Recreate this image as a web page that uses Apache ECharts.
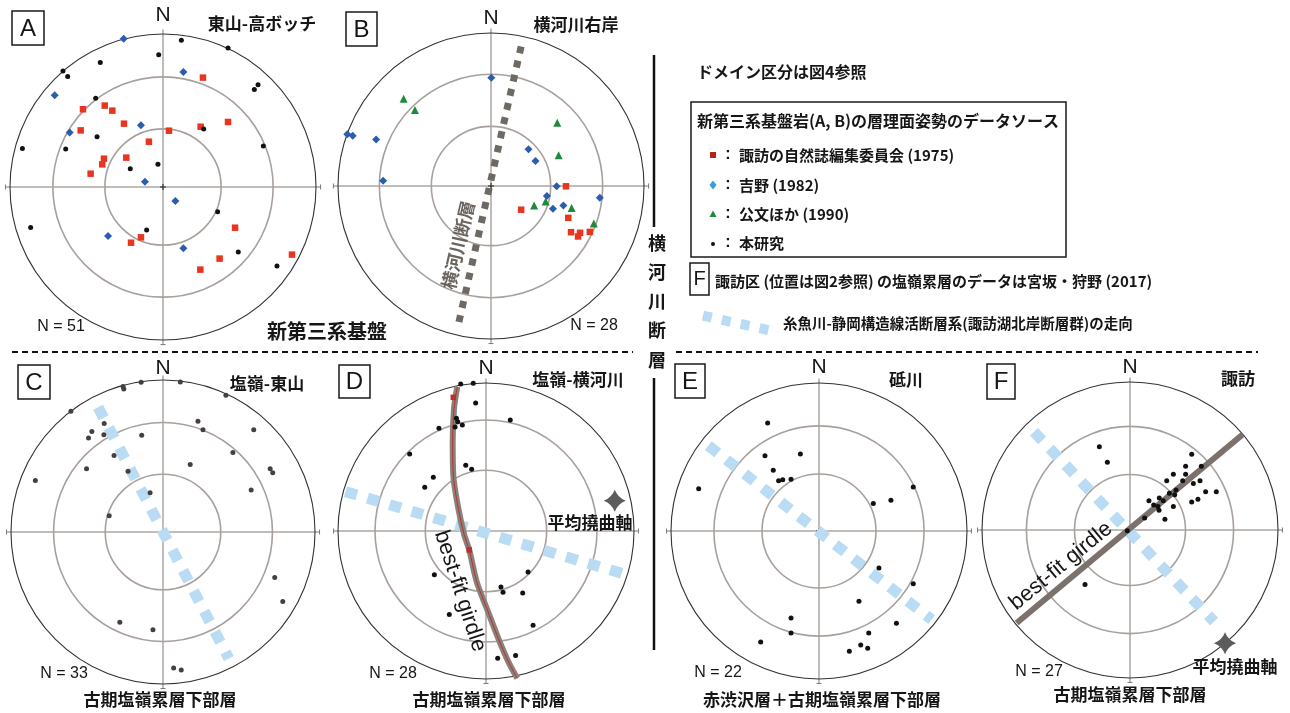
<!DOCTYPE html>
<html><head><meta charset="utf-8">
<script src="https://cdn.jsdelivr.net/npm/echarts@6/dist/echarts.min.js"></script>
<style>html,body{margin:0;padding:0;background:#fff}#c{width:1290px;height:713px}</style>
</head><body><div id="c"></div><script>
// ---- data (normalised stereonet coordinates) ----
const aBlack = [[0.120,0.959],[0.425,0.908],[-0.028,0.865],[-0.410,0.813],[-0.654,0.758],[-0.623,0.723],[0.597,0.638],[0.621,0.669],[-0.440,0.580],[0.266,0.379],[-0.431,0.329],[-0.919,0.251],[0.656,0.268],[-0.033,0.148],[-0.214,0.120],[0.357,-0.161],[-0.865,-0.264],[-0.107,-0.281],[0.492,-0.425],[0.745,-0.516],[-0.636,0.248]];
const aBlue = [[-0.257,0.969],[0.133,0.752],[-0.708,0.599],[-0.144,0.403],[-0.610,0.357],[-0.118,0.035],[0.081,-0.092],[-0.359,-0.320],[0.133,-0.401]];
const aRed = [[0.261,0.715],[-0.523,0.508],[-0.381,0.532],[-0.331,0.499],[-0.255,0.414],[-0.538,0.370],[0.039,0.368],[0.246,0.394],[0.425,0.425],[-0.092,0.296],[-0.386,0.185],[-0.240,0.192],[-0.397,0.148],[-0.473,0.087],[0.471,-0.266],[-0.144,-0.329],[-0.209,-0.364],[0.370,-0.468],[0.244,-0.540],[0.843,-0.442]];
const bBlue = [[0.002,0.707],[-0.939,0.339],[-0.904,0.328],[-0.751,0.304],[-0.705,0.035],[0.245,0.241],[0.291,0.164],[0.429,-0.002],[0.365,-0.066],[0.405,-0.149],[0.473,-0.127],[0.711,-0.077]];
const bGreen = [[-0.571,0.571],[-0.497,0.497],[0.433,0.414],[0.442,0.201],[0.282,-0.127],[0.357,-0.101],[0.527,-0.144],[0.672,-0.245]];
const bRed = [[0.490,-0.002],[0.197,-0.155],[0.505,-0.208],[0.523,-0.302],[0.582,-0.306],[0.569,-0.330],[0.646,-0.300]];
const cDots = [[-0.263,0.958],[-0.258,0.941],[-0.144,0.985],[0.114,0.987],[0.414,0.899],[-0.606,0.794],[-0.387,0.713],[-0.468,0.661],[-0.490,0.619],[-0.389,0.639],[-0.140,0.637],[0.230,0.729],[0.263,0.672],[0.597,0.672],[0.460,0.523],[-0.322,0.503],[-0.503,0.416],[-0.230,0.400],[0.179,0.444],[0.705,0.416],[0.722,0.389],[-0.840,0.339],[0.580,0.276],[-0.085,0.258],[-0.354,0.107],[0.735,-0.300],[0.788,-0.457],[-0.284,-0.593],[-0.066,-0.643],[0.070,-0.895],[0.120,-0.908]];
const dDots = [[-0.171,0.993],[-0.086,0.998],[-0.070,0.865],[-0.200,0.761],[-0.191,0.739],[-0.209,0.703],[-0.160,0.716],[-0.318,0.694],[0.164,0.750],[-0.516,0.520],[-0.137,0.444],[-0.097,0.417],[-0.356,0.363],[-0.414,0.295],[-0.349,-0.295],[0.284,-0.277],[0.101,-0.378],[0.115,-0.414],[0.248,-0.419],[-0.248,-0.565],[0.318,-0.637],[0.079,-0.860],[0.200,-0.842]];
const dRed = [[-0.221,0.903],[-0.113,-0.128]];
const eDots = [[-0.347,0.730],[-0.365,0.509],[-0.126,0.520],[-0.309,0.410],[-0.273,0.340],[-0.245,0.347],[-0.189,0.349],[-0.813,0.286],[0.637,0.297],[0.367,0.185],[0.486,0.207],[0.405,-0.250],[0.637,-0.356],[0.270,-0.475],[0.523,-0.624],[-0.189,-0.588],[-0.189,-0.689],[-0.394,-0.750],[0.336,-0.689],[0.205,-0.813],[0.282,-0.770],[0.329,-0.793]];
const fDots = [[-0.207,0.563],[-0.153,0.457],[0.417,0.511],[0.376,0.430],[0.482,0.430],[0.293,0.376],[0.376,0.376],[0.248,0.333],[0.356,0.333],[0.428,0.315],[0.473,0.333],[0.311,0.270],[0.266,0.248],[0.302,0.239],[0.511,0.259],[0.583,0.259],[0.128,0.198],[0.198,0.216],[0.225,0.198],[0.160,0.169],[0.189,0.158],[0.196,0.133],[0.293,0.158],[0.417,0.189],[0.459,0.207],[0.099,0.081],[0.236,0.072],[-0.018,-0.005],[-0.304,-0.369]];
const bFault = [[0.197,0.912],[-0.214,-0.908]];
const cStrike = [[-0.427,0.821],[0.433,-0.832]];
const dStrike = [[-0.950,0.266],[0.919,-0.286]];
const eStrike = [[-0.748,0.577],[0.761,-0.599]];
const fStrike = [[-0.649,0.664],[0.568,-0.619]];
const dGirdle = [[-0.194,0.975],[-0.216,0.829],[-0.225,0.603],[-0.221,0.378],[-0.187,0.153],[-0.147,-0.027],[-0.113,-0.128],[-0.063,-0.343],[0.005,-0.522],[0.083,-0.725],[0.151,-0.883],[0.211,-0.995]];
const fGirdle = [[-0.766,-0.628],[0.759,0.644]];
const dAxis = [[0.870,0.205]];
const fAxis = [[0.642,-0.766]];
const panelLetters = ['A','B','C','D','E','F'];
const panelTitles = ['東山-高ボッチ','横河川右岸','塩嶺-東山','塩嶺-横河川','砥川','諏訪'];
const panelCounts = ['N = 51','N = 28','N = 33','N = 28','N = 22','N = 27'];

// ---- layout ----
const panels = [
  {cx:163, cy:187, R:153, rings:[1,0.72,0.38]},
  {cx:491, cy:186, R:153, rings:[1,0.73,0.39]},
  {cx:163, cy:532, R:152, rings:[1,0.72,0.38]},
  {cx:486, cy:531, R:148, rings:[1,0.75,0.41]},
  {cx:819, cy:531, R:148, rings:[1,0.71,0.385]},
  {cx:1130, cy:530, R:148, rings:[1,0.70,0.375]}
];
const CJK = '"Noto Sans CJK JP", sans-serif';
const LAT = '"Liberation Sans", Arial, sans-serif';
const BLUE_LINE = '#b9dcf4';

const grid = [], xAxis = [], yAxis = [], series = [];
panels.forEach((p, i) => {
  grid.push({left:p.cx-p.R, top:p.cy-p.R, width:2*p.R, height:2*p.R});
  xAxis.push({type:'value', min:-1, max:1, show:false, gridIndex:i});
  yAxis.push({type:'value', min:-1, max:1, show:false, gridIndex:i});
  const rings = p.rings;
  series.push({
    type:'custom', xAxisIndex:i, yAxisIndex:i, z:1, silent:true, data:[[0,0]],
    renderItem: function(params, api){
      const c = api.coord([0,0]);
      const u = api.size([1,0])[0];
      const e = 1.03*u, ch = [];
      ch.push({type:'line', shape:{x1:c[0]-e, y1:c[1], x2:c[0]+e, y2:c[1]}, style:{stroke:'#aaa6a3', lineWidth:1.5}});
      ch.push({type:'line', shape:{x1:c[0], y1:c[1]-e, x2:c[0], y2:c[1]+e}, style:{stroke:'#aaa6a3', lineWidth:1.5}});
      ch.push({type:'line', shape:{x1:c[0]-e, y1:c[1]-2.5, x2:c[0]-e, y2:c[1]+2.5}, style:{stroke:'#777', lineWidth:1}});
      ch.push({type:'line', shape:{x1:c[0]+e, y1:c[1]-2.5, x2:c[0]+e, y2:c[1]+2.5}, style:{stroke:'#777', lineWidth:1}});
      ch.push({type:'line', shape:{x1:c[0]-2.5, y1:c[1]+e, x2:c[0]+2.5, y2:c[1]+e}, style:{stroke:'#777', lineWidth:1}});
      rings.forEach((r, k) => ch.push({type:'circle', shape:{cx:c[0], cy:c[1], r:r*u},
        style:{fill:null, stroke: k===0 ? '#333' : '#a8a09c', lineWidth: k===0 ? 1.1 : 1.6}}));
      ch.push({type:'line', shape:{x1:c[0]-3, y1:c[1], x2:c[0]+3, y2:c[1]}, style:{stroke:'#222', lineWidth:1}});
      ch.push({type:'line', shape:{x1:c[0], y1:c[1]-3, x2:c[0], y2:c[1]+3}, style:{stroke:'#222', lineWidth:1}});
      return {type:'group', children:ch};
    }
  });
});
function sc(i, data, symbol, size, color, z){
  series.push({type:'scatter', xAxisIndex:i, yAxisIndex:i, data:data, symbol:symbol, symbolSize:size,
    itemStyle:{color:color, opacity:1}, z:z||5, silent:true});
}
function ln(i, data, color, width, dash, z, smooth){
  series.push({type:'line', xAxisIndex:i, yAxisIndex:i, data:data, symbol:'none', smooth:smooth||false, z:z, silent:true,
    lineStyle:{color:color, width:width, type:dash||'solid', cap:'butt'}});
}
const STAR = 'path://M10,0 Q12.8,7.2 20,10 Q12.8,12.8 10,20 Q7.2,12.8 0,10 Q7.2,7.2 10,0Z';
// A
sc(0, aRed, 'rect', 6.5, '#e8351f'); sc(0, aBlue, 'diamond', 8, '#2b5cad'); sc(0, aBlack, 'circle', 5, '#111');
// B
ln(1, bFault, '#6f6964', 7, [7,7.5], 3);
sc(1, bRed, 'rect', 6.5, '#e8351f'); sc(1, bGreen, 'triangle', 8, '#1f8a3b'); sc(1, bBlue, 'diamond', 8, '#2b5cad');
// C
ln(2, cStrike, BLUE_LINE, 11, [12,11], 2);
sc(2, cDots, 'circle', 5, '#454040');
// D
ln(3, dStrike, BLUE_LINE, 11, [12,11], 2);
ln(3, dGirdle, '#8c817c', 6, 'solid', 3, 0.3);
ln(3, dGirdle, '#b8322a', 1, 'solid', 3, 0.3);
sc(3, dRed, 'rect', 5.5, '#b8322a'); sc(3, dDots, 'circle', 5, '#111');
sc(3, dAxis, STAR, 22, '#5c5c5c');
// E
ln(4, eStrike, BLUE_LINE, 11, [12,11], 2);
sc(4, eDots, 'circle', 5, '#111');
// F
ln(5, fStrike, BLUE_LINE, 11, [12,11], 2);
ln(5, fGirdle, '#7b726d', 6, 'solid', 3);
sc(5, fDots, 'circle', 5, '#111');
sc(5, fAxis, STAR, 22, '#5c5c5c');

// ---- annotation graphics ----
const g = [];
function T(x, y, s, font, opt){
  opt = opt || {};
  g.push({type:'text', x:x, y:y, rotation:opt.rot||0, z:50, silent:true,
    style:{text:s, font:font, fill:opt.fill||'#161616', align:opt.align||'center', textAlign:opt.align||'center',
      verticalAlign:'middle', textVerticalAlign:'middle'}});
}
function box(x, y, w, h){
  g.push({type:'rect', shape:{x:x, y:y, width:w, height:h}, z:40, silent:true, style:{fill:'#fff', stroke:'#1a1a1a', lineWidth:1.5}});
}
const boxes = [[12,11,32,34],[346,12,31,34],[18,365,32,34],[339,365,31,33],[675,364,30,34],[987,364,28,35]];
boxes.forEach((b, i) => { box(b[0],b[1],b[2],b[3]); T(b[0]+b[2]/2, b[1]+b[3]/2+1, panelLetters[i], '24px '+LAT); });
const nPos = [[163,15],[491,18],[163,368],[486,368],[819,367],[1130,367]];
nPos.forEach(q => T(q[0], q[1], 'N', '21px '+LAT));
const titlePos = [[262,24],[576,25],[267,384],[578,380],[906,380],[1238,379]];
titlePos.forEach((q, i) => T(q[0], q[1], panelTitles[i], 'bold 17px '+CJK));
const cntPos = [[61,327],[594,326],[64,674],[393,674],[718,673],[1039,672]];
cntPos.forEach((q, i) => T(q[0], q[1], panelCounts[i], '16px '+LAT));
T(327, 331, '新第三系基盤', 'bold 20px '+CJK);
T(160, 700, '古期塩嶺累層下部層', 'bold 17px '+CJK);
T(489, 700, '古期塩嶺累層下部層', 'bold 17px '+CJK);
T(822, 700, '赤渋沢層＋古期塩嶺累層下部層', 'bold 17px '+CJK);
T(1130, 695, '古期塩嶺累層下部層', 'bold 17px '+CJK);
T(590, 523, '平均撓曲軸', 'bold 17px '+CJK);
T(1235, 667, '平均撓曲軸', 'bold 17px '+CJK);
T(458, 245, '横河川断層', 'bold 18px '+CJK, {rot:77*Math.PI/180, fill:'#6b6560'});
T(460, 591, 'best-fit girdle', '22px '+LAT, {rot:-72*Math.PI/180});
T(1061, 566, 'best-fit girdle', '22px '+LAT, {rot:39.5*Math.PI/180});
// separators
g.push({type:'line', shape:{x1:12, y1:352, x2:633, y2:352}, silent:true, style:{stroke:'#111', lineWidth:2, lineDash:[6,4]}});
g.push({type:'line', shape:{x1:676, y1:352, x2:1258, y2:352}, silent:true, style:{stroke:'#111', lineWidth:2, lineDash:[6,4]}});
g.push({type:'line', shape:{x1:654, y1:55, x2:654, y2:227}, silent:true, style:{stroke:'#111', lineWidth:2.5}});
g.push({type:'line', shape:{x1:654, y1:378, x2:654, y2:650}, silent:true, style:{stroke:'#111', lineWidth:2.5}});
['横','河','川','断','層'].forEach((ch, k) => T(657, 243 + k*29.2, ch, 'bold 18px '+CJK));
// legend
T(697, 72, 'ドメイン区分は図4参照', 'bold 16px '+CJK, {align:'left'});
box(691, 102, 375, 155);
T(697, 121, '新第三系基盤岩(A, B)の層理面姿勢のデータソース', 'bold 16px '+CJK, {align:'left'});
const legendItems = ['諏訪の自然誌編集委員会 (1975)','吉野 (1982)','公文ほか (1990)','本研究'];
const legY = [155,185,214,243];
legendItems.forEach((s, k) => { T(739, legY[k], s, 'bold 15px '+CJK, {align:'left'}); T(728, legY[k], ':', 'bold 16px '+LAT); });
g.push({type:'rect', shape:{x:710, y:152, width:6, height:6}, z:45, silent:true, style:{fill:'#b3261e'}});
g.push({type:'polygon', shape:{points:[[713,180.5],[716.5,185],[713,189.5],[709.5,185]]}, z:45, silent:true, style:{fill:'#3a9be0'}});
g.push({type:'polygon', shape:{points:[[713,210.5],[716.5,217],[709.5,217]]}, z:45, silent:true, style:{fill:'#1e8a3e'}});
g.push({type:'circle', shape:{cx:713, cy:244, r:2}, z:45, silent:true, style:{fill:'#111'}});
box(690, 263, 19, 32); T(699.5, 279.5, 'F', '20px '+LAT);
T(715, 281.5, '諏訪区 (位置は図2参照) の塩嶺累層のデータは宮坂・狩野 (2017)', 'bold 15px '+CJK, {align:'left'});
g.push({type:'line', shape:{x1:703, y1:315.7, x2:769.4, y2:330.3}, silent:true, style:{stroke:BLUE_LINE, lineWidth:10, lineDash:[9,10.3]}});
T(783, 323, '糸魚川-静岡構造線活断層系(諏訪湖北岸断層群)の走向', 'bold 14.5px '+CJK, {align:'left'});

const chart = echarts.init(document.getElementById('c'), null, {renderer:'canvas'});
chart.setOption({animation:false, backgroundColor:'#fff', grid:grid, xAxis:xAxis, yAxis:yAxis, series:series, graphic:{elements:g}});
</script></body></html>
